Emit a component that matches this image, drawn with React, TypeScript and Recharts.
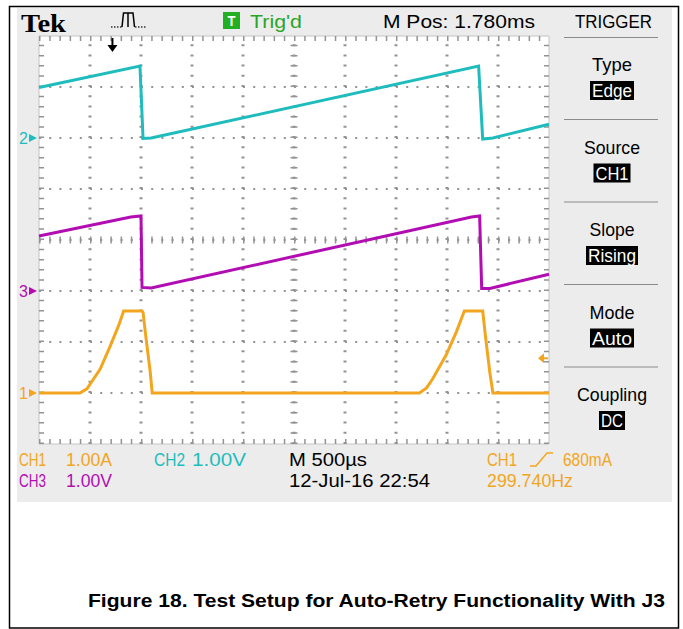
import React from "react";
import {
  LineChart,
  Line,
  XAxis,
  YAxis,
  ReferenceLine,
  ReferenceDot,
  ReferenceArea,
} from "recharts";

// horizontal axis: time in ms (500 us/div), vertical axis: divisions from screen centre
const xTicks = [0, 0.5, 1, 1.5, 2, 2.5, 3, 3.5, 4, 4.5, 5];
const yTicks = [-4, -3, -2, -1, 0, 1, 2, 3, 4];

// CH2 (cyan), 1.00V/div, ground at +2 div
const ch2Time = [0, 0.99, 1.02, 1.1, 4.31, 4.35, 4.45, 5.0];
const ch2Div = [2.99, 3.41, 1.99, 2.0, 3.41, 1.98, 2.0, 2.27];

// CH3 (magenta), 1.00V/div, ground at -1 div
const ch3Time = [0, 0.9, 1.0, 1.01, 1.1, 4.24, 4.32, 4.34, 4.42, 5.0];
const ch3Div = [0.08, 0.45, 0.47, -0.93, -0.94, 0.45, 0.47, -0.95, -0.95, -0.67];

// CH1 (orange), 1.00A/div, ground at -3 div
const ch1Time = [0, 0.4, 0.47, 0.6, 0.7, 0.78, 0.83, 1.01, 1.02, 1.05, 1.09, 1.11, 3.73, 3.8, 3.86, 3.99, 4.09, 4.17, 4.35, 4.38, 4.42, 4.45, 5.0];
const ch1Div = [-3.0, -3.0, -2.92, -2.53, -2.07, -1.68, -1.39, -1.39, -1.42, -1.94, -2.58, -3.0, -3.0, -2.9, -2.72, -2.26, -1.81, -1.39, -1.39, -1.94, -2.6, -3.0, -3.0];

const gndLevels = [2, -1, -3];
const gndLabels = ["2", "3", "1"];

const trigTime = 0.72;
const trigLevel = -2.32; // 680mA above CH1 ground

const menuLabels = ["Type", "Source", "Slope", "Mode", "Coupling"];
const menuValues = ["Edge", "CH1", "Rising", "Auto", "DC"];

const CYAN = "#1fbcbd";
const MAGENTA = "#b20db3";
const ORANGE = "#f2a51f";
const GRID = "#939393";
const narrow = "'Liberation Sans Narrow', 'Liberation Sans', Arial, sans-serif";

const ch2Data = ch2Time.map((t, i) => ({ t, v: ch2Div[i] }));
const ch3Data = ch3Time.map((t, i) => ({ t, v: ch3Div[i] }));
const ch1Data = ch1Time.map((t, i) => ({ t, v: ch1Div[i] }));
const gndColors = [CYAN, MAGENTA, ORANGE];

function GndTick(props: any) {
  const { x, y, payload } = props;
  const i = gndLevels.indexOf(payload.value);
  if (i < 0) return <g />;
  const c = gndColors[i];
  return (
    <g>
      <text x={x - 11} y={y + 6} textAnchor="end" fill={c} fontSize={16} fontFamily={narrow}>
        {gndLabels[i]}
      </text>
      <path d={`M${x - 10} ${y - 4} L${x - 2} ${y} L${x - 10} ${y + 4} Z`} fill={c} />
    </g>
  );
}

function TrigArrow(props: any) {
  const { cx, cy } = props;
  return (
    <g>
      <line x1={cx} y1={cy + 2} x2={cx} y2={cy + 10} stroke="#000" strokeWidth={2} />
      <path d={`M${cx - 5} ${cy + 9} L${cx + 5} ${cy + 9} L${cx} ${cy + 16} Z`} fill="#000" />
    </g>
  );
}

function LevelArrow(props: any) {
  const { cx, cy } = props;
  return (
    <g>
      <path d={`M${cx - 11} ${cy} L${cx - 5} ${cy - 5} L${cx - 5} ${cy + 5} Z`} fill={ORANGE} />
      <line x1={cx - 6} y1={cy} x2={cx - 1} y2={cy} stroke={ORANGE} strokeWidth={2} />
    </g>
  );
}

function Txt({ x, y, w, c = "#000", s = 19, anchor = "start", weight = "normal", font = narrow, children }: any) {
  return (
    <text
      x={x}
      y={y}
      fill={c}
      fontSize={s}
      fontFamily={font}
      fontWeight={weight}
      textAnchor={anchor}
      textLength={w}
      lengthAdjust="spacingAndGlyphs"
    >
      {children}
    </text>
  );
}

const menuLabelW = [40, 56, 45, 45, 70];
const menuBoxW = [44, 37, 52, 44, 26];

export default function App() {
  return (
    <div style={{ position: "relative", width: 683, height: 629, background: "#fff" }}>
      <style>{"body{margin:0}"}</style>
      <div style={{ position: "absolute", left: 17, top: 8, width: 655, height: 494, background: "#ececec" }} />
      <div style={{ position: "absolute", left: 39, top: 36, width: 510, height: 408, background: "#fff" }} />
      <LineChart
        width={683}
        height={629}
        margin={{ top: 36, right: 134, bottom: 185, left: 17 }}
        style={{ position: "absolute", left: 0, top: 0 }}
      >
        <XAxis xAxisId="t" type="number" dataKey="t" domain={[0, 5]} ticks={xTicks} hide />
        <YAxis
          yAxisId="div"
          type="number"
          domain={[-4, 4]}
          ticks={yTicks}
          interval={0}
          width={22}
          axisLine={false}
          tickLine={false}
          tickSize={0}
          tickMargin={0}
          tick={(p: any) => <GndTick {...p} />}
        />
        <ReferenceArea xAxisId="t" yAxisId="div" x1={0} x2={5} y1={-4} y2={4} fill="none" stroke="#c4c4c4" />
        {yTicks.slice(1, -1).map((v) => (
          <ReferenceLine key={"h" + v} xAxisId="t" yAxisId="div" y={v} stroke={GRID} strokeWidth={2} strokeDasharray="2 8.2" />
        ))}
        {xTicks.slice(1, -1).map((v) => (
          <ReferenceLine key={"v" + v} xAxisId="t" yAxisId="div" x={v} stroke={GRID} strokeWidth={3} strokeDasharray="2 8.2" />
        ))}
        <ReferenceLine xAxisId="t" yAxisId="div" y={0} stroke={GRID} strokeWidth={7} strokeDasharray="1.5 8.7" />
        <ReferenceLine xAxisId="t" yAxisId="div" x={2.5} stroke={GRID} strokeWidth={7} strokeDasharray="1.5 8.7" />
        <ReferenceLine xAxisId="t" yAxisId="div" y={3.951} stroke={GRID} strokeWidth={5} strokeDasharray="1.5 8.7" />
        <ReferenceLine xAxisId="t" yAxisId="div" y={-3.951} stroke={GRID} strokeWidth={5} strokeDasharray="1.5 8.7" />
        <ReferenceLine xAxisId="t" yAxisId="div" x={0.0245} stroke={GRID} strokeWidth={5} strokeDasharray="1.5 8.7" />
        <ReferenceLine xAxisId="t" yAxisId="div" x={4.9755} stroke={GRID} strokeWidth={5} strokeDasharray="1.5 8.7" />
        <Line xAxisId="t" yAxisId="div" data={ch2Data} dataKey="v" type="linear" stroke={CYAN} strokeWidth={3} dot={false} isAnimationActive={false} />
        <Line xAxisId="t" yAxisId="div" data={ch3Data} dataKey="v" type="linear" stroke={MAGENTA} strokeWidth={3} dot={false} isAnimationActive={false} />
        <Line xAxisId="t" yAxisId="div" data={ch1Data} dataKey="v" type="linear" stroke={ORANGE} strokeWidth={3} dot={false} isAnimationActive={false} />
        <ReferenceDot xAxisId="t" yAxisId="div" x={trigTime} y={4} r={0} shape={(p: any) => <TrigArrow {...p} />} />
        <ReferenceDot xAxisId="t" yAxisId="div" x={5} y={trigLevel} r={0} shape={(p: any) => <LevelArrow {...p} />} />
      </LineChart>
      <svg width={683} height={629} style={{ position: "absolute", left: 0, top: 0, pointerEvents: "none" }}>
        <rect x={9.5} y={6.5} width={669} height={621.5} fill="none" stroke="#000" strokeWidth={1.5} />
        {/* top status bar */}
        <Txt x={21} y={32} w={45} s={25} weight="bold" font="'Liberation Serif', 'DejaVu Serif', serif">Tek</Txt>
        <path d="M111 27 L122 27" stroke="#333" strokeWidth={1.5} strokeDasharray="1.5 1.5" />
        <path d="M122 27 L123.5 13 L133 13 L134.5 27 M128 13 L128 27" stroke="#000" strokeWidth={1.5} fill="none" />
        <path d="M135 27 L147 27" stroke="#333" strokeWidth={1.5} strokeDasharray="1.5 1.5" />
        <rect x={223} y={12} width={17} height={17} fill="#22b022" />
        <Txt x={231.5} y={26} w={8} c="#fff" s={15} anchor="middle" weight="bold">T</Txt>
        <Txt x={250} y={28} w={52} c="#2aa52a">Trig'd</Txt>
        <Txt x={383} y={28} w={152}>M Pos: 1.780ms</Txt>
        <Txt x={575} y={28} w={77}>TRIGGER</Txt>
        <line x1={564} y1={37.5} x2={658} y2={37.5} stroke="#8a8a8a" strokeWidth={1} />
        {/* trigger menu */}
        {menuLabels.map((lab, i) => {
          const base = 71 + i * 82.5;
          return (
            <g key={lab}>
              <Txt x={612} y={base} w={menuLabelW[i]} anchor="middle">{lab}</Txt>
              <rect x={612 - menuBoxW[i] / 2} y={base + 10} width={menuBoxW[i]} height={19} fill="#000" />
              <Txt x={612} y={base + 26} w={menuBoxW[i] - 4} c="#fff" s={18} anchor="middle">{menuValues[i]}</Txt>
              {i < 4 && <line x1={564} y1={base + 48.5} x2={658} y2={base + 48.5} stroke="#8a8a8a" strokeWidth={1} />}
            </g>
          );
        })}
        {/* bottom readout */}
        <Txt x={19} y={466} w={27} c={ORANGE}>CH1</Txt>
        <Txt x={66} y={466} w={46} c={ORANGE}>1.00A</Txt>
        <Txt x={154} y={466} w={31} c={CYAN}>CH2</Txt>
        <Txt x={192} y={466} w={54} c={CYAN}>1.00V</Txt>
        <Txt x={289} y={466} w={78}>M 500µs</Txt>
        <Txt x={487} y={466} w={30} c={ORANGE}>CH1</Txt>
        <path d="M530 466 L536 466 L547 453 L553 453" stroke={ORANGE} strokeWidth={1.5} fill="none" />
        <Txt x={563} y={466} w={49} c={ORANGE}>680mA</Txt>
        <Txt x={19} y={487} w={27} c={MAGENTA}>CH3</Txt>
        <Txt x={66} y={487} w={46} c={MAGENTA}>1.00V</Txt>
        <Txt x={289} y={487} w={141}>12-Jul-16 22:54</Txt>
        <Txt x={487} y={487} w={86} c={ORANGE}>299.740Hz</Txt>
        {/* caption */}
        <Txt x={88} y={607} w={577} s={18} weight="bold" font="'Liberation Sans', Arial, sans-serif">
          Figure 18. Test Setup for Auto-Retry Functionality With J3
        </Txt>
      </svg>
    </div>
  );
}
